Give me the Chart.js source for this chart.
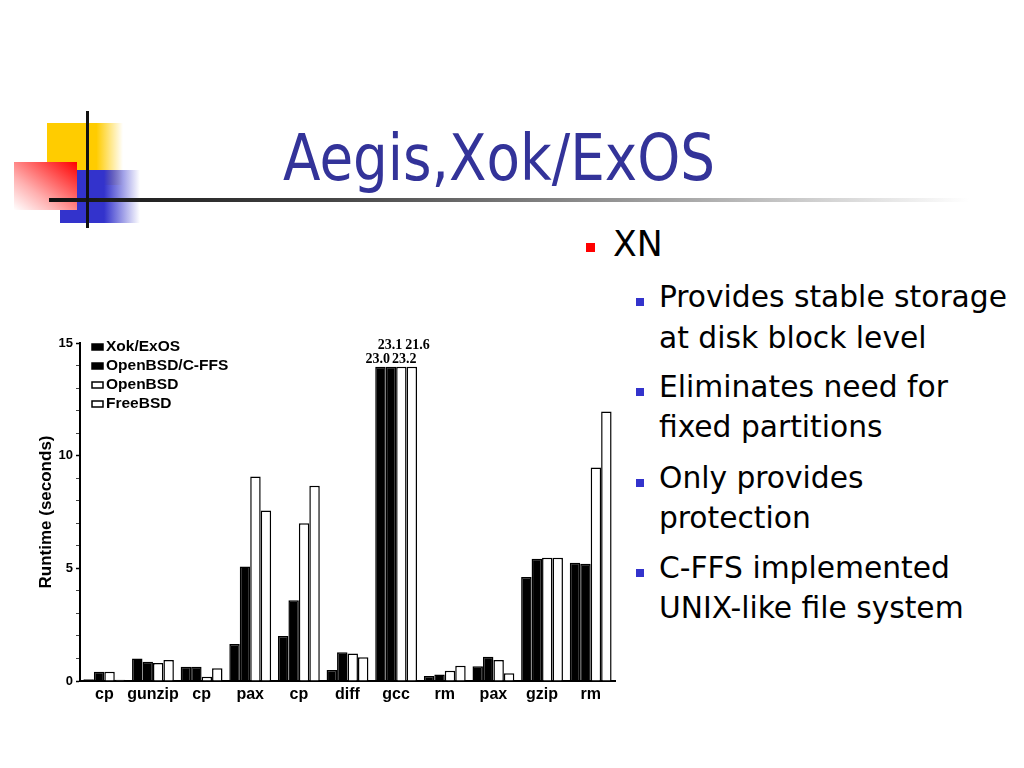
<!DOCTYPE html>
<html>
<head>
<meta charset="utf-8">
<title>Aegis,Xok/ExOS</title>
<script src="https://cdn.jsdelivr.net/npm/chart.js@4.4.1/dist/chart.umd.min.js"></script>
<style>
  html, body { margin: 0; padding: 0; background: #fff; }
  #slide {
    position: relative; width: 1024px; height: 768px; overflow: hidden; background: #fff;
    font-family: "DejaVu Sans Condensed", "DejaVu Sans", sans-serif;
  }
  .deco { position: absolute; }
  #sq-yellow { left: 47px; top: 123px; width: 76px; height: 62px;
    background: linear-gradient(to right, #ffcc00 0%, #ffcc00 65%, rgba(255, 204, 0, 0) 100%); }
  #sq-blue { left: 60px; top: 170px; width: 80px; height: 53px;
    background: linear-gradient(to right, #3333cc 0%, #3333cc 55%, rgba(51, 51, 204, 0) 100%); }
  #sq-red { left: 14px; top: 162px; width: 63px; height: 48px;
    background: linear-gradient(to top right, rgba(255, 255, 255, 1) 0%, #ffb0b0 35%, #ff0000 100%); }
  #vline { left: 86px; top: 111px; width: 3px; height: 117px; background: #111; }
  #hline { left: 49px; top: 198px; width: 920px; height: 4px;
    background: linear-gradient(to right, #111 0%, #444 30%, #aaa 70%, #fff 100%); }
  #title {
    position: absolute; left: 283px; top: 126px; font-size: 64px; line-height: 64px;
    color: #333399; white-space: nowrap; transform-origin: left top;
  }
  .line { position: absolute; white-space: nowrap; color: #000; transform-origin: left top; }
  .l1 { left: 613px; font-size: 35px; line-height: 35px; }
  .l2 { left: 659px; font-size: 30px; line-height: 30px; }
  .bul { position: absolute; }
  .bul-red { width: 9px; height: 9px; background: #ff0000; }
  .bul-blue { width: 8px; height: 8px; background: #3333cc; }
  #chart-wrap { position: absolute; left: 20px; top: 330px; width: 600px; height: 380px; }
</style>
</head>
<body>
<div id="slide">
  <div class="deco" id="sq-yellow"></div>
  <div class="deco" id="sq-blue"></div>
  <div class="deco" id="sq-red"></div>
  <div class="deco" id="hline"></div>
  <div class="deco" id="vline"></div>

  <div id="title">Aegis,Xok/ExOS</div>

  <div class="bul bul-red" style="left:586px; top:243px;"></div>
  <div class="line l1" id="xn" style="top:227px;">XN</div>

  <div class="bul bul-blue" style="left:636px; top:298px;"></div>
  <div class="line l2 sub" id="ref-line" style="top:282px;">Provides stable storage</div>
  <div class="line l2 sub" style="top:323px;">at disk block level</div>

  <div class="bul bul-blue" style="left:636px; top:388px;"></div>
  <div class="line l2 sub" style="top:372px;">Eliminates need for</div>
  <div class="line l2 sub" style="top:412px;">fixed partitions</div>

  <div class="bul bul-blue" style="left:636px; top:479px;"></div>
  <div class="line l2 sub" style="top:463px;">Only provides</div>
  <div class="line l2 sub" style="top:503px;">protection</div>

  <div class="bul bul-blue" style="left:636px; top:569px;"></div>
  <div class="line l2 sub" style="top:553px;">C-FFS implemented</div>
  <div class="line l2 sub" style="top:593px;">UNIX-like file system</div>

  <div id="chart-wrap"><canvas id="chart-runtime" width="600" height="380"></canvas></div>
</div>

<script>
  // benchmark names under each group of bars
  var categories = ['cp', 'gunzip', 'cp', 'pax', 'cp', 'diff', 'gcc', 'rm', 'pax', 'gzip', 'rm'];
  var seriesNames = ['Xok/ExOS', 'OpenBSD/C-FFS', 'OpenBSD', 'FreeBSD'];

  // runtime in seconds
  var xokValues     = [0.08, 1.00, 0.63, 1.64, 2.00, 0.49, 23.0, 0.22, 0.66, 4.62, 5.25];
  var cffsValues    = [0.41, 0.85, 0.63, 5.08, 3.58, 1.28, 23.1, 0.29, 1.08, 5.43, 5.20];
  var openbsdValues = [0.41, 0.80, 0.19, 9.08, 7.00, 1.22, 23.2, 0.46, 0.93, 5.47, 9.48];
  var freebsdValues = [0.05, 0.93, 0.57, 7.57, 8.67, 1.05, 21.6, 0.68, 0.34, 5.47, 11.96];

  var yTickLabels = [0, 5, 10, 15];
  var yMax = 15;
  var clipAt = 13.95; // bars taller than this are cut off and labelled

  (function () {
    'use strict';

    function fitWidth(el, target) {
      var w = el.getBoundingClientRect().width;
      if (w > 0) el.style.transform = 'scaleX(' + (target / w) + ')';
      return target / w;
    }

    function initSlideText() {
      fitWidth(document.getElementById('title'), 432);
      var k = fitWidth(document.getElementById('ref-line'), 348);
      var subs = document.querySelectorAll('.sub');
      for (var i = 0; i < subs.length; i++) subs[i].style.transform = 'scaleX(' + k + ')';
      document.getElementById('xn').style.transform = 'scaleX(' + k + ')';
    }

    var barFills = ['#000000', '#000000', '#ffffff', '#ffffff'];
    var allValues = [xokValues, cffsValues, openbsdValues, freebsdValues];

    var insetLegend = {
      id: 'insetLegend',
      afterDraw: function (chart) {
        var ctx = chart.ctx, a = chart.chartArea;
        ctx.save();
        ctx.font = 'bold 15.5px "Liberation Sans", Arial, sans-serif';
        ctx.textBaseline = 'middle';
        ctx.textAlign = 'left';
        chart.data.datasets.forEach(function (ds, i) {
          var x = a.left + 12, y = a.top + 4 + i * 19;
          ctx.fillStyle = ds.backgroundColor;
          ctx.fillRect(x, y - 3, 11, 6);
          ctx.strokeStyle = '#000';
          ctx.lineWidth = 1.5;
          ctx.strokeRect(x, y - 3, 11, 6);
          ctx.fillStyle = '#000';
          ctx.fillText(ds.label, x + 14, y);
        });
        ctx.restore();
      }
    };

    // real values printed above the cut-off bars (gcc), staggered in two rows
    var cutLabels = {
      id: 'cutLabels',
      afterDatasetsDraw: function (chart) {
        var ctx = chart.ctx, a = chart.chartArea;
        ctx.save();
        ctx.font = 'bold 14px "Liberation Serif", "Times New Roman", serif';
        ctx.fillStyle = '#000';
        ctx.textBaseline = 'alphabetic';
        for (var c = 0; c < categories.length; c++) {
          var cut = allValues.some(function (arr) { return arr[c] > clipAt; });
          if (!cut) continue;
          var xs = allValues.map(function (arr, d) { return chart.getDatasetMeta(d).data[c].x; });
          var lower = a.top + 20, upper = a.top + 6;
          ctx.textAlign = 'right';
          ctx.fillText(allValues[0][c].toFixed(1), xs[1] - 1, lower);
          ctx.fillText(allValues[1][c].toFixed(1), xs[2] + 1, upper);
          ctx.textAlign = 'left';
          ctx.fillText(allValues[2][c].toFixed(1), xs[1] + 1, lower);
          ctx.fillText(allValues[3][c].toFixed(1), xs[2] + 4, upper);
        }
        ctx.restore();
      }
    };

    function initChart() {
      if (typeof Chart === 'undefined') return;
      var tickFont = { family: '"Liberation Sans", Arial, sans-serif', weight: 'bold' };

      new Chart(document.getElementById('chart-runtime'), {
        type: 'bar',
        data: {
          labels: categories,
          datasets: seriesNames.map(function (name, i) {
            return {
              label: name,
              data: allValues[i].map(function (v) { return Math.min(v, clipAt); }),
              backgroundColor: barFills[i],
              borderColor: '#000',
              borderWidth: 1.5,
              categoryPercentage: 0.86,
              barPercentage: 1.0
            };
          })
        },
        options: {
          responsive: false,
          animation: false,
          devicePixelRatio: 1,
          layout: { padding: { top: 13, right: 5, left: 0, bottom: 0 } },
          plugins: { legend: { display: false }, tooltip: { enabled: false } },
          scales: {
            x: {
              grid: { display: false, drawTicks: false },
              border: { display: true, color: '#000', width: 2 },
              ticks: {
                color: '#000', padding: 4,
                autoSkip: false, maxRotation: 0, minRotation: 0,
                font: Object.assign({ size: 16 }, tickFont)
              },
              afterFit: function (scale) { scale.height = 29; }
            },
            y: {
              min: 0,
              max: yMax,
              grid: {
                drawOnChartArea: false,
                drawTicks: true,
                tickLength: 4,
                tickColor: function (c) { return c.tick && c.tick.value % 5 === 0 ? '#000' : '#444'; },
                tickWidth: function (c) { return c.tick && c.tick.value % 5 === 0 ? 1.5 : 1; }
              },
              border: { display: true, color: '#000', width: 2 },
              ticks: {
                stepSize: 1,
                autoSkip: false,
                padding: 3,
                color: '#000',
                font: Object.assign({ size: 13 }, tickFont),
                callback: function (v) { return yTickLabels.indexOf(v) >= 0 ? String(v) : ''; }
              },
              title: {
                display: true,
                text: 'Runtime (seconds)',
                color: '#000',
                padding: { top: 16, bottom: 0 },
                font: Object.assign({ size: 17 }, tickFont)
              },
              afterFit: function (scale) { scale.width = 60; }
            }
          }
        },
        plugins: [insetLegend, cutLabels]
      });
    }

    initSlideText();
    initChart();
  })();
</script>
</body>
</html>
